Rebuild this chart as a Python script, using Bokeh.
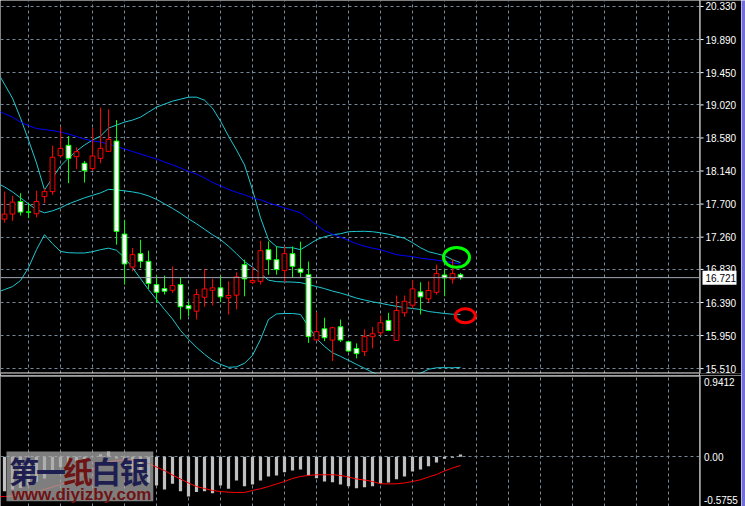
from bokeh.plotting import figure
from bokeh.models import FixedTicker, Span, Range1d
from bokeh.layouts import column, row
from bokeh.embed import file_html
from bokeh.resources import INLINE
from bokeh.core.properties import value

# ---------------- data ----------------
bars = list(range(58))
opens = [17.500, 17.567, 17.734, 17.595, 17.571, 17.800, 17.866, 18.344, 18.482, 18.331,
         18.243, 18.172, 18.309, 18.402, 18.539, 17.301, 16.863, 17.040, 16.938, 16.628,
         16.575, 16.553, 16.628, 16.350, 16.274, 16.460, 16.553, 16.585, 16.452, 16.487,
         16.894, 16.659, 16.672, 17.093, 16.960, 16.818, 17.040, 16.837, 16.761, 15.892,
         16.041, 15.890, 16.067, 15.868, 15.779, 15.736, 15.935, 15.988, 16.151, 15.886,
         16.253, 16.354, 16.532, 16.439, 16.526, 16.757, 16.704, 16.761]
highs = [17.866, 17.809, 17.845, 17.712, 17.880, 17.911, 18.477, 18.729, 18.605, 18.455,
         18.274, 18.711, 18.983, 18.961, 18.818, 17.491, 17.115, 17.226, 17.080, 16.748,
         16.748, 16.871, 16.721, 16.407, 16.571, 16.837, 16.704, 16.748, 16.672, 16.792,
         16.960, 16.867, 17.212, 17.203, 17.137, 17.137, 17.137, 17.199, 16.934, 16.261,
         16.187, 16.067, 16.164, 15.876, 15.846, 16.032, 16.062, 16.217, 16.253, 16.483,
         16.483, 16.686, 16.659, 16.672, 16.894, 16.828, 16.970, 16.784]
lows = [17.455, 17.478, 17.548, 17.513, 17.521, 17.712, 17.823, 18.323, 17.978, 18.164,
        17.986, 18.145, 18.243, 18.393, 17.159, 16.628, 16.805, 16.850, 16.571, 16.386,
        16.496, 16.518, 16.164, 16.208, 16.164, 16.333, 16.350, 16.394, 16.231, 16.297,
        16.473, 16.635, 16.628, 16.761, 16.761, 16.659, 16.717, 16.717, 15.852, 15.886,
        15.876, 15.611, 15.863, 15.730, 15.647, 15.677, 15.779, 15.952, 16.009, 15.876,
        16.200, 16.310, 16.231, 16.394, 16.496, 16.473, 16.642, 16.695]
closes = [17.567, 17.726, 17.593, 17.592, 17.734, 17.866, 18.323, 18.442, 18.309, 18.397,
          18.145, 18.340, 18.442, 18.562, 17.336, 16.903, 17.027, 16.938, 16.642, 16.526,
          16.540, 16.615, 16.333, 16.306, 16.496, 16.571, 16.585, 16.465, 16.483, 16.731,
          16.704, 16.682, 17.080, 16.960, 16.828, 17.040, 16.871, 16.792, 15.935, 16.001,
          15.921, 16.054, 15.890, 15.744, 15.709, 15.935, 15.974, 16.120, 16.018, 16.284,
          16.407, 16.571, 16.465, 16.549, 16.774, 16.717, 16.774, 16.721]

line_bars = list(range(-1, 58))
bb_upper = [19.481, 19.295, 19.109, 18.844, 18.552, 18.247, 17.889, 18.048, 18.207, 18.313,
            18.406, 18.486, 18.552, 18.605, 18.711, 18.751, 18.791, 18.818, 18.857, 18.924,
            18.990, 19.030, 19.070, 19.096, 19.123, 19.123, 19.083, 18.977, 18.804, 18.605,
            18.420, 18.221, 17.889, 17.517, 17.226, 17.133, 17.119, 17.119, 17.093, 17.159,
            17.226, 17.265, 17.292, 17.305, 17.332, 17.336, 17.338, 17.332, 17.318, 17.299,
            17.272, 17.245, 17.186, 17.119, 17.066, 17.040, 17.013, 16.960, 16.920]
bb_middle = [17.982, 17.929, 17.862, 17.783, 17.703, 17.624, 17.584, 17.610, 17.650, 17.703,
             17.743, 17.783, 17.816, 17.849, 17.896, 17.889, 17.876, 17.862, 17.842, 17.809,
             17.763, 17.703, 17.643, 17.577, 17.504, 17.438, 17.365, 17.292, 17.226, 17.139,
             17.040, 16.934, 16.861, 16.774, 16.688, 16.668, 16.664, 16.662, 16.655, 16.628,
             16.602, 16.575, 16.542, 16.516, 16.483, 16.449, 16.423, 16.399, 16.380, 16.359,
             16.339, 16.323, 16.310, 16.297, 16.270, 16.257, 16.244, 16.234, 16.231]
bb_lower = [16.522, 16.562, 16.602, 16.682, 16.854, 17.093, 17.292, 17.172, 17.070, 17.053,
            17.049, 17.049, 17.066, 17.093, 17.113, 17.086, 16.987, 16.854, 16.708, 16.562,
            16.430, 16.297, 16.171, 16.018, 15.899, 15.793, 15.700, 15.620, 15.567, 15.527,
            15.534, 15.580, 15.687, 15.899, 16.164, 16.237, 16.244, 16.244, 16.231, 16.071,
            15.912, 15.806, 15.720, 15.673, 15.620, 15.567, 15.514, 15.461, 15.408, 15.395,
            15.395, 15.408, 15.421, 15.448, 15.501, 15.521, 15.523, 15.521, 15.527]
ma_line = [18.950, 18.904, 18.857, 18.791, 18.745, 18.705, 18.692, 18.678, 18.658, 18.632,
           18.599, 18.566, 18.539, 18.526, 18.499, 18.466, 18.433, 18.400, 18.366, 18.333,
           18.300, 18.260, 18.221, 18.181, 18.134, 18.101, 18.048, 17.988, 17.942, 17.896,
           17.856, 17.823, 17.783, 17.756, 17.716, 17.683, 17.650, 17.617, 17.584, 17.504,
           17.425, 17.345, 17.299, 17.259, 17.219, 17.172, 17.139, 17.113, 17.093, 17.060,
           17.027, 17.013, 17.000, 16.980, 16.967, 16.954, 16.940, 16.920, 16.901]

macd_hist = [-0.398, -0.380, -0.360, -0.330, -0.290, -0.250, -0.180, -0.120, -0.080, -0.050,
             -0.030, 0.000, 0.030, 0.060, -0.020, -0.120, -0.180, -0.240, -0.300, -0.332,
             -0.378, -0.313, -0.398, -0.459, -0.409, -0.398, -0.421, -0.332, -0.371, -0.274,
             -0.340, -0.321, -0.274, -0.228, -0.216, -0.178, -0.159, -0.147, -0.216, -0.248,
             -0.286, -0.294, -0.321, -0.340, -0.363, -0.352, -0.340, -0.313, -0.297, -0.259,
             -0.228, -0.170, -0.147, -0.109, -0.066, -0.023, -0.012, 0.027]
macd_signal = [-0.465, -0.459, -0.454, -0.440, -0.425, -0.402, -0.378, -0.350, -0.321, -0.286,
               -0.240, -0.193, -0.147, -0.101, -0.060, -0.043, -0.035, -0.037, -0.051, -0.078,
               -0.118, -0.159, -0.211, -0.257, -0.303, -0.344, -0.367, -0.390, -0.402, -0.410,
               -0.413, -0.413, -0.390, -0.370, -0.344, -0.315, -0.286, -0.251, -0.228, -0.216,
               -0.208, -0.208, -0.208, -0.216, -0.234, -0.257, -0.269, -0.286, -0.313, -0.313,
               -0.313, -0.303, -0.286, -0.266, -0.234, -0.205, -0.164, -0.130, -0.101]

price_ticks = [20.330, 19.890, 19.450, 19.020, 18.580, 18.140, 17.700, 17.260,
               16.830, 16.390, 15.950, 15.510]
price_labels = ["20.330", "19.890", "19.450", "19.020", "18.580", "18.140", "17.700",
                "17.260", "16.830", "16.390", "15.950", "15.510"]
bid_price = 16.721
bid_label = "16.721"
macd_max, macd_min = 0.9412, -0.5755
macd_tick_pos = [0.863, 0.0, -0.498]
macd_tick_text = ["0.9412", "0.00", "-0.5755"]
grid_bars = [3 + 4 * m for m in range(21)]

mark_x = [56.5, 57.6]
mark_y = [16.991, 16.213]
mark_w = [3.25, 2.5]
mark_h = [0.265, 0.186]
mark_colors = ["#00ff00", "#ff0000"]

wm_chars = ["第", "一", "纸", "白", "银"]
wm_char_x = [2.44, 5.81, 9.19, 12.69, 16.25]
wm_char_colors = ["#1e1e50", "#1e1e50", "#6e1414", "#1e1e50", "#1e1e50"]
wm_url = "www.diyizby.com"

# ---------------- layout ----------------
FW = 699
AW = 42
H_UP = 373
H_LO = 131
Y0, Y1 = 15.445, 20.4096
GRID = "#778899"
FONT = "Liberation Sans"

xr = Range1d(-0.5, 86.875)
yr1 = Range1d(Y0, Y1)
yr2 = Range1d(macd_min, macd_max)
ax_x = Range1d(0, AW)


def base(w, h, x_range, y_range, bottom=0):
    f = figure(frame_width=w, frame_height=h, x_range=x_range, y_range=y_range,
               output_backend="svg", toolbar_location=None,
               min_border_left=0, min_border_top=0, min_border_bottom=bottom, min_border_right=0,
               background_fill_color="black", border_fill_color="black", outline_line_color=None)
    f.xaxis.visible = False
    f.yaxis.visible = False
    return f


p1 = base(FW, H_UP, xr, yr1, bottom=2)
p2 = base(FW, H_LO, xr, yr2)
pa1 = base(AW, H_UP, ax_x, yr1, bottom=2)
pa2 = base(AW, H_LO, ax_x, yr2)

for p in (p1, p2):
    p.xgrid.ticker = FixedTicker(ticks=grid_bars)
    p.xgrid.grid_line_color = GRID
    p.xgrid.grid_line_dash = "3 3"
    p.ygrid.grid_line_color = GRID
    p.ygrid.grid_line_dash = "3 3"
p1.ygrid.ticker = FixedTicker(ticks=price_ticks)
p2.ygrid.ticker = FixedTicker(ticks=[0.0])
for p in (pa1, pa2):
    p.grid.visible = False

# ---------------- upper panel ----------------
p1.add_layout(Span(location=bid_price, dimension="width", line_color="#9ea8b4", line_width=1))
p1.line(line_bars, bb_upper, line_color="#1ec8d2", line_width=1)
p1.line(line_bars, bb_middle, line_color="#1ec8d2", line_width=1)
p1.line(line_bars, bb_lower, line_color="#1ec8d2", line_width=1)
p1.line(line_bars, ma_line, line_color="#0000ff", line_width=1)

up = [c >= o for o, c in zip(opens, closes)]
edge = ["#ff0000" if u else "#00ff00" for u in up]
fill = ["#000000" if u else "#ffffff" for u in up]
tops = [max(o, c) for o, c in zip(opens, closes)]
bots = [min(o, c) for o, c in zip(opens, closes)]
p1.segment(x0=bars, y0=highs, x1=bars, y1=lows, line_color=edge, line_width=1)
p1.vbar(x=bars, top=tops, bottom=bots, width=0.6, fill_color=fill, line_color=edge, line_width=1)

p1.ellipse(x=mark_x, y=mark_y, width=mark_w, height=mark_h, fill_color=None,
           line_color=mark_colors, line_width=3)

px1 = H_UP / (Y1 - Y0)
p1.add_layout(Span(location=Y0 + 0.5 / px1, dimension="width", line_color="white", line_width=1))

# price axis (drawn in its own strip so the bid box can sit on it)
pa1.add_layout(Span(location=0.5, dimension="height", line_color="white", line_width=1))
pa1.segment(x0=[1] * len(price_ticks), x1=[4] * len(price_ticks), y0=price_ticks, y1=price_ticks,
            line_color="white", line_width=1)
pa1.text(x=[6] * len(price_ticks), y=price_ticks, text=price_labels, text_color="white",
         text_font=value(FONT), text_font_size="10px", text_baseline="middle", text_align="left")
pa1.quad(left=[3], right=[37], top=[bid_price + 7 / px1], bottom=[bid_price - 7 / px1],
         fill_color="white", line_color=None)
pa1.text(x=[6], y=[bid_price], text=[bid_label], text_color="black",
         text_font=value(FONT), text_font_size="10px", text_baseline="middle", text_align="left")

# ---------------- lower panel ----------------
p2.vbar(x=bars, top=macd_hist, bottom=0, width=0.4, fill_color="#c0c0c0", line_color=None)
p2.line(line_bars, macd_signal, line_color="#ff0000", line_width=1)
px2 = H_LO / (macd_max - macd_min)
p2.add_layout(Span(location=macd_max - 0.5 / px2, dimension="width", line_color="white", line_width=1))

# watermark
p2.quad(left=[0.25], right=[18.6], top=[0.061], bottom=[-0.514],
        fill_color="#a8a8a8", fill_alpha=0.75, line_color=None)
p2.text(x=wm_char_x, y=[-0.155] * 5, text=wm_chars, text_color=wm_char_colors,
        text_font=value("Noto Sans CJK SC"), text_font_style="bold", text_font_size="30px",
        text_align="center", text_baseline="middle")
p2.text(x=[9.63], y=[-0.431], text=[wm_url], text_color="#6e1414",
        text_font=value(FONT), text_font_style="bold", text_font_size="17px",
        text_align="center", text_baseline="middle")

pa2.add_layout(Span(location=0.5, dimension="height", line_color="white", line_width=1))
pa2.text(x=[4.5] * 3, y=macd_tick_pos, text=macd_tick_text, text_color="white",
         text_font=value(FONT), text_font_size="10px", text_baseline="middle", text_align="left")

strip = figure(width=4, height=506, toolbar_location=None, output_backend="svg", min_border=0,
               background_fill_color="#7070d8", border_fill_color="#7070d8",
               outline_line_color=None)
strip.axis.visible = False
strip.grid.visible = False

layout = row(column(p1, p2), column(pa1, pa2), strip)
open("out.html", "w").write(file_html(layout, INLINE))
